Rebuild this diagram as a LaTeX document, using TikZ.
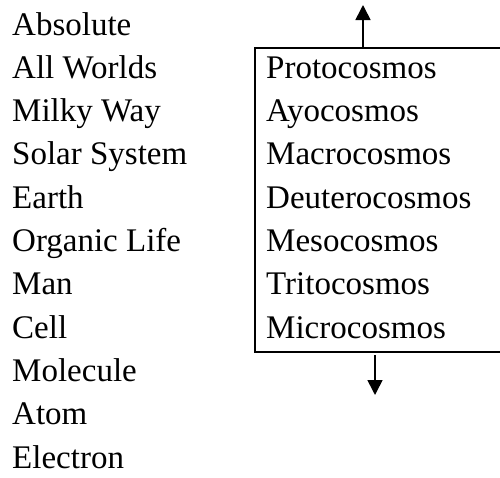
\documentclass[tikz,border=0pt]{standalone}
\usepackage{fontspec}
\setmainfont{Liberation Serif}
\usetikzlibrary{arrows.meta}

\tikzset{
  word/.style={anchor=base west, inner sep=0pt, text depth=0pt, font=\fontsize{33}{40}\selectfont},
  cosmframe/.style={draw, line width=2pt, anchor=north west, inner sep=0pt,
    minimum width=247pt, minimum height=304pt},
  cosmarrow/.style={-{Triangle[length=15pt,width=15pt]}, line width=1.6pt}
}

\begin{document}
\begin{tikzpicture}[x=1pt,y=1pt]
  \useasboundingbox (0,0) rectangle (500,-477);
  % scale of worlds
  \node[word] (absolute) at (12,-35.0) {Absolute};
  \node[word] (allworlds) at (12,-78.3) {All Worlds};
  \node[word] (milkyway) at (12,-121.6) {Milky Way};
  \node[word] (solar) at (12,-164.9) {Solar System};
  \node[word] (earth) at (12,-208.2) {Earth};
  \node[word] (organic) at (12,-251.5) {Organic Life};
  \node[word] (man) at (12,-294.8) {Man};
  \node[word] (cell) at (12,-338.1) {Cell};
  \node[word] (molecule) at (12,-381.4) {Molecule};
  \node[word] (atom) at (12,-424.7) {Atom};
  \node[word] (electron) at (12,-468.0) {Electron};
  % cosmoses
  \node[cosmframe] (cosmoi) at (254,-47) {};
  \node[word] (proto) at (266,-78.3) {Protocosmos};
  \node[word] (ayo) at (266,-121.6) {Ayocosmos};
  \node[word] (macro) at (266,-164.9) {Macrocosmos};
  \node[word] (deutero) at (266,-208.2) {Deuterocosmos};
  \node[word] (meso) at (266,-251.5) {Mesocosmos};
  \node[word] (trito) at (266,-294.8) {Tritocosmos};
  \node[word] (micro) at (266,-338.1) {Microcosmos};
  % arrows
  \coordinate (uptip) at (363,-5);
  \coordinate (downfoot) at (375,-355);
  \coordinate (downtip) at (375,-395);
  \draw[cosmarrow] (cosmoi.north -| uptip) -- (uptip);
  \draw[cosmarrow] (downfoot) -- (downtip);
\end{tikzpicture}
\end{document}
